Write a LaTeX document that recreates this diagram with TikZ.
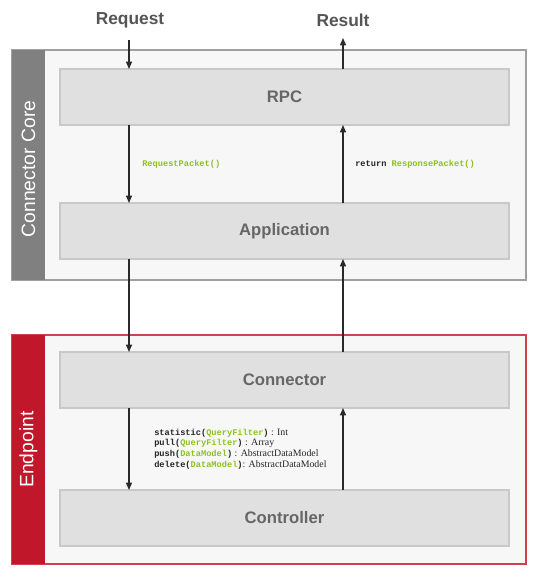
\documentclass[tikz,border=0pt]{standalone}
\usepackage{fontspec}
\setmainfont{Liberation Sans}
\newfontfamily\monof{Liberation Mono}
\newfontfamily\serf{Liberation Serif}
\usetikzlibrary{arrows.meta}
\definecolor{cfill}{HTML}{F7F7F7}
\definecolor{cborder}{HTML}{A0A0A0}
\definecolor{bfill}{HTML}{E0E0E0}
\definecolor{bborder}{HTML}{C8C8C8}
\definecolor{barg}{HTML}{808080}
\definecolor{barr}{HTML}{C0172B}
\definecolor{redb}{HTML}{D0404F}
\definecolor{lbl}{HTML}{666666}
\definecolor{ttl}{HTML}{555555}
\definecolor{grn}{HTML}{8DC21F}
\definecolor{arrc}{HTML}{2A2A2A}
\def\u{0.75pt}
\newcommand{\gr}[1]{\textcolor{grn}{#1}}
\newcommand{\sr}{\serf\mdseries\fontsize{7.4}{8}\selectfont}
\tikzset{
  container/.style={draw=cborder, fill=cfill, line width=1.2pt, inner sep=0pt, outer sep=0pt, anchor=north west},
  sidebar/.style={inner sep=0pt, outer sep=0pt, anchor=north west, minimum width=33*\u},
  layerbox/.style={draw=bborder, fill=bfill, line width=0.8pt, inner sep=0pt, outer sep=0pt,
     minimum width=449*\u, minimum height=56*\u, font=\fontsize{12.5}{14}\selectfont\bfseries, text=lbl},
  sidelbl/.style={rotate=90, text=white, font=\fontsize{14.5}{17}\selectfont},
  io/.style={font=\fontsize{13}{15}\selectfont\bfseries, text=ttl},
  code/.style={font=\monof\bfseries\fontsize{6.5}{7.9}\selectfont, text=black!85, anchor=west, inner sep=0pt},
  arr/.style={draw=arrc, line width=0.9pt, -{Triangle[length=5.5pt, width=4.5pt]}}
}
\begin{document}
\begin{tikzpicture}[x=\u, y=-\u]
\useasboundingbox (0,0) rectangle (539,578);
% containers
\node[container, minimum width=514*\u, minimum height=230*\u] (core) at (12,50) {};
\node[sidebar, fill=barg, minimum height=230*\u] (corebar) at (12,50) {};
\node[container, draw=redb, minimum width=514*\u, minimum height=229*\u] (endp) at (12,335) {};
\node[sidebar, fill=barr, minimum height=229*\u] (endpbar) at (12,335) {};
\node[sidelbl] (corelbl) at ([yshift=-4*\u]corebar.center) {Connector Core};
\node[sidelbl] (endplbl) at (endpbar.center) {Endpoint};
% layer boxes
\node[layerbox] (rpc) at (284.5,97) {RPC};
\node[layerbox] (app) at (284.5,231) {Application};
\node[layerbox] (conn) at (284.5,380) {Connector};
\node[layerbox] (ctrl) at (284.5,518) {Controller};
% io labels
\node[io] (req) at (130,20) {Request};
\node[io] (res) at (343,20) {Result};
\coordinate (L) at (129,0);
\coordinate (R) at (343,0);
\coordinate (reqend) at (129,40);
\coordinate (resend) at (343,38);
% arrows
\draw[arr] (reqend) -- (rpc.north -| L);
\draw[arr] (rpc.north -| R) -- (resend);
\draw[arr] (rpc.south -| L) -- (app.north -| L);
\draw[arr] (app.north -| R) -- (rpc.south -| R);
\draw[arr] (app.south -| L) -- (conn.north -| L);
\draw[arr] (conn.north -| R) -- (app.south -| R);
\draw[arr] (conn.south -| L) -- (ctrl.north -| L);
\draw[arr] (ctrl.north -| R) -- (conn.south -| R);
% labels
\node[code] (reqp) at (142,164) {\gr{RequestPacket()}};
\node[code] (resp) at (355,164) {return \gr{ResponsePacket()}};
\node[code] (f1) at (154,433) {statistic(\gr{QueryFilter})\sr{} : Int};
\node[code] (f2) at (154,443.5) {pull(\gr{QueryFilter})\sr{} : Array};
\node[code] (f3) at (154,454) {push(\gr{DataModel})\sr{} : AbstractDataModel};
\node[code] (f4) at (154,464.5) {delete(\gr{DataModel})\sr{}: AbstractDataModel};
\end{tikzpicture}
\end{document}
